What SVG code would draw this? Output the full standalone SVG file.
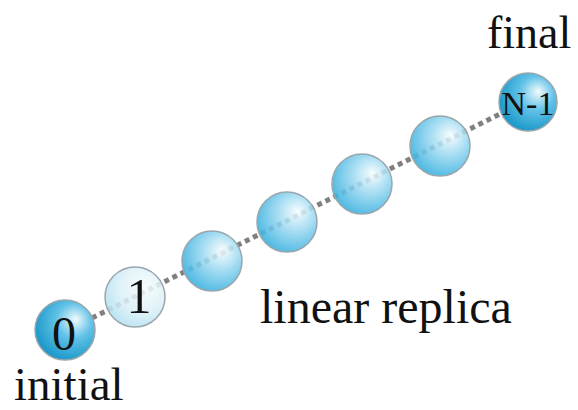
<svg xmlns="http://www.w3.org/2000/svg" width="578" height="410" viewBox="0 0 578 410">
<defs>
<radialGradient id="gDark" cx="0.62" cy="0.38" r="0.65" fx="0.68" fy="0.32">
<stop offset="0" stop-color="#f2fafd"/>
<stop offset="0.45" stop-color="#62c2e7"/>
<stop offset="1" stop-color="#1a98c9"/>
</radialGradient>
<radialGradient id="gMid" cx="0.62" cy="0.38" r="0.65" fx="0.68" fy="0.32">
<stop offset="0" stop-color="#f6fcfe" stop-opacity="0.85"/>
<stop offset="0.5" stop-color="#92d5ef" stop-opacity="0.85"/>
<stop offset="1" stop-color="#3db2e0" stop-opacity="0.9"/>
</radialGradient>
<radialGradient id="gLight" cx="0.62" cy="0.38" r="0.65" fx="0.68" fy="0.32">
<stop offset="0" stop-color="#f5fbfd" stop-opacity="0.85"/>
<stop offset="0.6" stop-color="#dbf0f7" stop-opacity="0.85"/>
<stop offset="1" stop-color="#b6e1f1" stop-opacity="0.9"/>
</radialGradient>
</defs>
<style>
.ball{stroke:#9aa6ac;stroke-width:1.5}
.lbl{font-family:"Liberation Serif","Times New Roman",serif;fill:#111}
</style>
<g id="connectors">
<line x1="92" y1="318" x2="502" y2="113" stroke="#808080" stroke-width="5" stroke-dasharray="5 4"/>
</g>
<g id="node0"><circle class="ball" cx="65" cy="330" r="30" fill="url(#gDark)"/><text class="lbl" x="64" y="350" font-size="48" text-anchor="middle">0</text></g>
<g id="node1"><circle class="ball" cx="135" cy="297" r="30" fill="url(#gLight)"/><text class="lbl" x="139" y="313" font-size="50" text-anchor="middle">1</text></g>
<g id="node2"><circle class="ball" cx="212" cy="261" r="30" fill="url(#gMid)"/></g>
<g id="node3"><circle class="ball" cx="287" cy="222" r="30" fill="url(#gMid)"/></g>
<g id="node4"><circle class="ball" cx="362" cy="184" r="30" fill="url(#gMid)"/></g>
<g id="node5"><circle class="ball" cx="440" cy="146" r="30" fill="url(#gMid)"/></g>
<g id="nodeN1"><circle class="ball" cx="528" cy="102" r="29" fill="url(#gDark)"/><text class="lbl" x="528" y="115" font-size="34" text-anchor="middle">N-1</text></g>
<g id="labels">
<text class="lbl" x="487" y="48" font-size="46">final</text>
<text class="lbl" x="14" y="400" font-size="47">initial</text>
<text class="lbl" x="260" y="323" font-size="48">linear replica</text>
</g>
</svg>
